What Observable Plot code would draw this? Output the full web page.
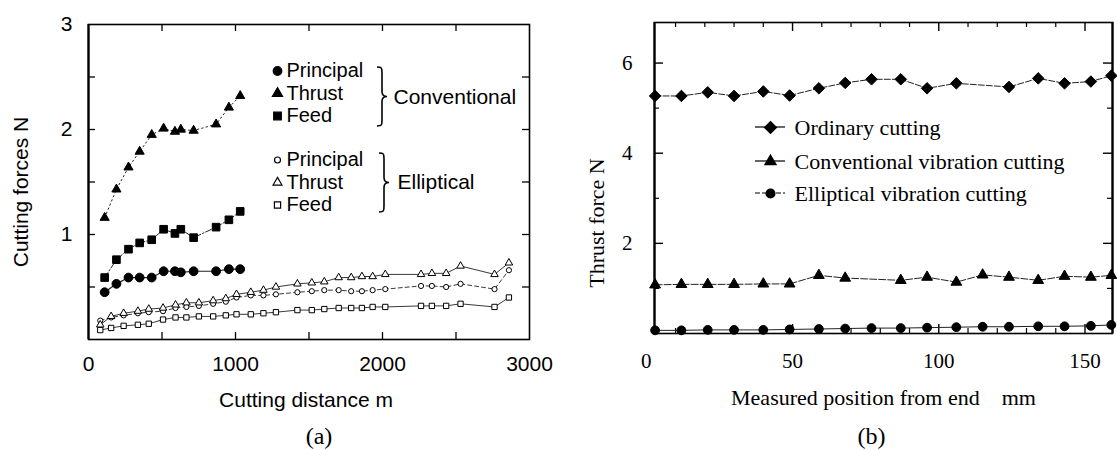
<!DOCTYPE html>
<html><head><meta charset="utf-8">
<script src="https://cdn.jsdelivr.net/npm/d3@7"></script>
<script src="https://cdn.jsdelivr.net/npm/@observablehq/plot@0.6"></script>
<style>
html,body{margin:0;padding:0;background:#fff;}
#wrap{position:relative;width:1117px;height:450px;overflow:hidden;background:#fff;}
#a,#b{position:absolute;top:0;}
#a{left:0;} #b{left:558px;}
</style></head><body><div id="wrap"><div id="a"></div><div id="b"></div></div>
<script>
// ---------- Panel (a): cutting forces vs cutting distance ----------
const convDistance  = [110, 190, 272, 348, 430, 511, 588, 628, 715, 868, 955, 1032];
const convPrincipal = [0.45, 0.53, 0.59, 0.59, 0.59, 0.65, 0.65, 0.64, 0.65, 0.65, 0.67, 0.67];
const convThrust    = [1.16, 1.43, 1.64, 1.79, 1.95, 2.01, 1.98, 2.00, 1.99, 2.05, 2.21, 2.32];
const convFeed      = [0.59, 0.76, 0.86, 0.92, 0.95, 1.05, 1.01, 1.05, 0.97, 1.07, 1.14, 1.22];

const ellDistance  = [80, 154, 239, 336, 410, 507, 592, 666, 751, 848, 934, 1007, 1104, 1190, 1275, 1421, 1519, 1604, 1702, 1787, 1860, 1933, 2019, 2262, 2336, 2433, 2531, 2762, 2860];
const ellThrust    = [0.14, 0.22, 0.25, 0.27, 0.29, 0.30, 0.33, 0.35, 0.35, 0.37, 0.39, 0.43, 0.45, 0.47, 0.50, 0.53, 0.54, 0.55, 0.59, 0.59, 0.60, 0.60, 0.62, 0.62, 0.63, 0.63, 0.70, 0.62, 0.73];
const ellPrincipal = [0.18, 0.21, 0.23, 0.25, 0.26, 0.27, 0.30, 0.31, 0.32, 0.34, 0.36, 0.40, 0.42, 0.42, 0.43, 0.45, 0.46, 0.47, 0.47, 0.46, 0.46, 0.47, 0.48, 0.51, 0.51, 0.50, 0.53, 0.48, 0.66];
const ellFeed      = [0.09, 0.11, 0.13, 0.14, 0.15, 0.19, 0.21, 0.21, 0.22, 0.22, 0.23, 0.24, 0.24, 0.25, 0.26, 0.28, 0.28, 0.29, 0.30, 0.30, 0.30, 0.31, 0.31, 0.32, 0.32, 0.32, 0.34, 0.31, 0.40];

const aXTicks = [0, 1000, 2000, 3000];
const aYTicks = [1, 2, 3];
const aForceNames = ["Principal", "Thrust", "Feed"];
const aGroupNames = ["Conventional", "Elliptical"];
const aXLabel = "Cutting distance m";
const aYLabel = "Cutting forces N";
const aCaption = "(a)";

// ---------- Panel (b): thrust force vs measured position ----------
const posOrdinary = [3, 12, 21, 30, 40, 49, 59, 68, 77, 87, 96, 106, 124, 134, 143, 152, 159];
const ordinary    = [5.27, 5.27, 5.35, 5.27, 5.37, 5.28, 5.44, 5.56, 5.64, 5.64, 5.44, 5.55, 5.47, 5.66, 5.55, 5.59, 5.72];
const posConventional = [3, 12, 21, 30, 40, 49, 59, 68, 87, 96, 106, 115, 124, 134, 143, 152, 159];
const conventional    = [1.08, 1.09, 1.09, 1.09, 1.10, 1.10, 1.29, 1.23, 1.18, 1.25, 1.14, 1.30, 1.25, 1.18, 1.27, 1.25, 1.29];
const posElliptical = [3, 12, 21, 30, 40, 49, 59, 68, 77, 87, 96, 106, 115, 124, 134, 143, 152, 159];
const elliptical    = [0.07, 0.07, 0.08, 0.08, 0.08, 0.09, 0.10, 0.11, 0.12, 0.12, 0.13, 0.14, 0.15, 0.15, 0.16, 0.16, 0.17, 0.19];

const bXTicks = [0, 50, 100, 150];
const bYTicks = [2, 4, 6];
const bLegend = ["Ordinary cutting", "Conventional vibration cutting", "Elliptical vibration cutting"];
const bXLabel = "Measured position from end\u00a0\u00a0\u00a0\u00a0mm";
const bYLabel = "Thrust force N";
const bCaption = "(b)";

// ---------- helpers ----------
const rows = (xs, ys) => xs.map((x, i) => ({x, y: ys[i]}));
const sans = "'Liberation Sans', Arial, Helvetica, sans-serif";
const serif = "'Liberation Serif', 'Times New Roman', Times, serif";
const SVGNS = "http://www.w3.org/2000/svg";

function pathMark(d, sw, dash) {
  return () => {
    const p = document.createElementNS(SVGNS, "path");
    p.setAttribute("d", d);
    p.setAttribute("fill", "none");
    p.setAttribute("stroke", "#000");
    p.setAttribute("stroke-width", sw);
    if (dash) p.setAttribute("stroke-dasharray", dash);
    return p;
  };
}
function braceD(x0, yt, yb) {
  const ym = (yt + yb) / 2, xv = x0 + 5, xt = x0 + 10;
  return `M${x0},${yt} C${xv},${yt} ${xv},${yt+1} ${xv},${yt+6} L${xv},${ym-5} C${xv},${ym-1} ${xv+2},${ym} ${xt},${ym} ` +
         `C${xv+2},${ym} ${xv},${ym+1} ${xv},${ym+5} L${xv},${yb-6} C${xv},${yb-1} ${xv},${yb} ${x0},${yb}`;
}
const label = (t, o) => Plot.text([t], {text: d => d, lineAnchor: "middle", fill: "#000", ...o});

// ---------- Panel (a) ----------
{
  const W = 558, H = 450, ml = 88, mr = 29, mt = 24, mb = 111;
  const fw = W - ml - mr, fh = H - mt - mb;
  const tl = 7;
  const xMinor = d3.range(500, 3000, 500);
  const yMinor = d3.range(0.5, 3, 0.5);

  const series = (data, symbol, r, fill, dash, sw) => [
    Plot.line(data, {x: "x", y: "y", stroke: "#222", strokeWidth: sw, strokeDasharray: dash}),
    Plot.dot(data, {x: "x", y: "y", symbol, r, fill, stroke: "#000", strokeWidth: 1})
  ];

  const legendRows = [
    {name: aForceNames[0], symbol: "circle", r: 4.3, fill: "#000", dy: 46.5},
    {name: aForceNames[1], symbol: "triangle", r: 3.8, fill: "#000", dy: 69},
    {name: aForceNames[2], symbol: "square", r: 4.3, fill: "#000", dy: 91.5},
    {name: aForceNames[0], symbol: "circle", r: 3.0, fill: "#fff", dy: 135.5},
    {name: aForceNames[1], symbol: "triangle", r: 3.3, fill: "#fff", dy: 158},
    {name: aForceNames[2], symbol: "square", r: 3.5, fill: "#fff", dy: 180.5}
  ];
  const legendMarks = legendRows.flatMap(d => [
    Plot.dot([0], {frameAnchor: "top-left", dx: 189, dy: d.dy, symbol: d.symbol, r: d.r, fill: d.fill, stroke: "#000", strokeWidth: 1.2}),
    label(d.name, {frameAnchor: "top-left", dx: 198, dy: d.dy, textAnchor: "start", fontSize: 20})
  ]);

  const plotA = Plot.plot({
    width: W, height: H, marginLeft: ml, marginRight: mr, marginTop: mt, marginBottom: mb,
    x: {domain: [0, 3000]},
    y: {domain: [0, 3]},
    style: {fontFamily: sans, fontSize: "21px", background: "white", color: "#000", overflow: "visible"},
    marks: [
      Plot.tickX(xMinor, {x: d => d, insetTop: fh - tl, stroke: "#000", strokeWidth: 1.3}),
      Plot.tickX(xMinor, {x: d => d, insetBottom: fh - tl, stroke: "#000", strokeWidth: 1.3}),
      Plot.tickY(yMinor, {y: d => d, insetRight: fw - tl, stroke: "#000", strokeWidth: 1.3}),
      Plot.tickY(yMinor, {y: d => d, insetLeft: fw - tl, stroke: "#000", strokeWidth: 1.3}),
      ...series(rows(ellDistance, ellFeed), "square", 3.0, "#fff", null, 0.9),
      ...series(rows(ellDistance, ellPrincipal), "circle", 2.6, "#fff", "4,3", 0.9),
      ...series(rows(ellDistance, ellThrust), "triangle", 2.8, "#fff", null, 0.9),
      ...series(rows(convDistance, convThrust), "triangle", 3.4, "#000", "1.5,3", 1),
      ...series(rows(convDistance, convFeed), "square", 4.3, "#000", "6,2,1.5,2", 1),
      ...series(rows(convDistance, convPrincipal), "circle", 4.4, "#000", null, 1.2),
      Plot.frame({stroke: "#000", strokeWidth: 1.6}),
      Plot.ruleX([0], {stroke: "#000", strokeWidth: 2.2}),
      Plot.axisX(aXTicks, {tickSize: 0, tickPadding: 17, tickFormat: d => String(d), label: null, fontSize: 21}),
      Plot.axisY(aYTicks, {tickSize: 0, tickPadding: 16, tickFormat: d => String(d), label: null, fontSize: 21}),
      label(aYLabel, {frameAnchor: "left", textAnchor: "middle", dx: -67, dy: 10, rotate: -90, fontSize: 21}),
      label(aXLabel, {frameAnchor: "bottom", textAnchor: "middle", dx: -3, dy: 61, fontSize: 21}),
      label(aCaption, {frameAnchor: "bottom", textAnchor: "middle", dx: 10, dy: 97, fontSize: 24, fontFamily: serif}),
      ...legendMarks,
      label(aGroupNames[0], {frameAnchor: "top-left", dx: 305, dy: 73, textAnchor: "start", fontSize: 21}),
      label(aGroupNames[1], {frameAnchor: "top-left", dx: 309, dy: 158, textAnchor: "start", fontSize: 21}),
      pathMark(braceD(377, 67, 126), 1.6),
      pathMark(braceD(379, 153, 212), 1.6)
    ]
  });
  document.getElementById("a").appendChild(plotA);
}

// ---------- Panel (b) ----------
{
  const W = 559, H = 450, ml = 96, mr = 5, mt = 22, mb = 117;
  const fw = W - ml - mr, fh = H - mt - mb;
  const xMinor = d3.range(10, 160, 10).filter(d => d % 50 !== 0);
  const xMajor = [50, 100, 150];
  const yMinor = [1, 3, 5];
  const yMajor = [2, 4, 6];

  const series = (data, symbol, r, dash) => [
    Plot.line(data, {x: "x", y: "y", stroke: "#222", strokeWidth: 1, strokeDasharray: dash}),
    Plot.dot(data, {x: "x", y: "y", symbol, r, fill: "#000", stroke: "#000", strokeWidth: 1})
  ];

  const legendRows = [
    {name: bLegend[0], symbol: "diamond2", r: 5.2, dy: 105, dash: null},
    {name: bLegend[1], symbol: "triangle", r: 4.0, dy: 139, dash: null},
    {name: bLegend[2], symbol: "circle", r: 4.3, dy: 171, dash: "5,2"}
  ];
  const legendMarks = legendRows.flatMap(d => [
    pathMark(`M${ml + 101},${mt + d.dy} L${ml + 131},${mt + d.dy}`, 1.2, d.dash),
    Plot.dot([0], {frameAnchor: "top-left", dx: 116, dy: d.dy, symbol: d.symbol, r: d.r, fill: "#000", stroke: "#000"}),
    label(d.name, {frameAnchor: "top-left", dx: 140, dy: d.dy, textAnchor: "start", fontSize: 22})
  ]);

  const plotB = Plot.plot({
    width: W, height: H, marginLeft: ml, marginRight: mr, marginTop: mt, marginBottom: mb,
    x: {domain: [2.8, 159.4]},
    y: {domain: [0, 6.9]},
    style: {fontFamily: serif, fontSize: "21px", background: "white", color: "#000", overflow: "visible"},
    marks: [
      Plot.tickX(xMinor, {x: d => d, insetTop: fh - 5, stroke: "#000", strokeWidth: 1.2}),
      Plot.tickX(xMinor, {x: d => d, insetBottom: fh - 5, stroke: "#000", strokeWidth: 1.2}),
      Plot.tickX(xMajor, {x: d => d, insetTop: fh - 9, stroke: "#000", strokeWidth: 1.4}),
      Plot.tickX(xMajor, {x: d => d, insetBottom: fh - 9, stroke: "#000", strokeWidth: 1.4}),
      Plot.tickY(yMinor, {y: d => d, insetRight: fw - 5, stroke: "#000", strokeWidth: 1.2}),
      Plot.tickY(yMinor, {y: d => d, insetLeft: fw - 5, stroke: "#000", strokeWidth: 1.2}),
      Plot.tickY(yMajor, {y: d => d, insetRight: fw - 9, stroke: "#000", strokeWidth: 1.4}),
      Plot.tickY(yMajor, {y: d => d, insetLeft: fw - 9, stroke: "#000", strokeWidth: 1.4}),
      ...series(rows(posElliptical, elliptical), "circle", 4.4, null),
      ...series(rows(posConventional, conventional), "triangle", 4.0, "7,2"),
      ...series(rows(posOrdinary, ordinary), "diamond2", 5.2, "6,2"),
      Plot.frame({stroke: "#000", strokeWidth: 1.6}),
      Plot.ruleX([2.8], {stroke: "#000", strokeWidth: 2.2}),
      Plot.ruleX([159.4], {stroke: "#000", strokeWidth: 2.2}),
      Plot.axisX(bXTicks, {tickSize: 0, tickPadding: 20, tickFormat: d => String(d), label: null, fontSize: 21}),
      Plot.axisY(bYTicks, {tickSize: 0, tickPadding: 22, tickFormat: d => String(d), label: null, fontSize: 21}),
      label(bYLabel, {frameAnchor: "left", textAnchor: "middle", dx: -58, dy: 45, rotate: -90, fontSize: 22}),
      label(bXLabel, {frameAnchor: "bottom", textAnchor: "middle", dx: 0, dy: 64, fontSize: 22}),
      label(bCaption, {frameAnchor: "bottom", textAnchor: "middle", dx: -12, dy: 103, fontSize: 24}),
      ...legendMarks
    ]
  });
  document.getElementById("b").appendChild(plotB);
}
</script></body></html>
